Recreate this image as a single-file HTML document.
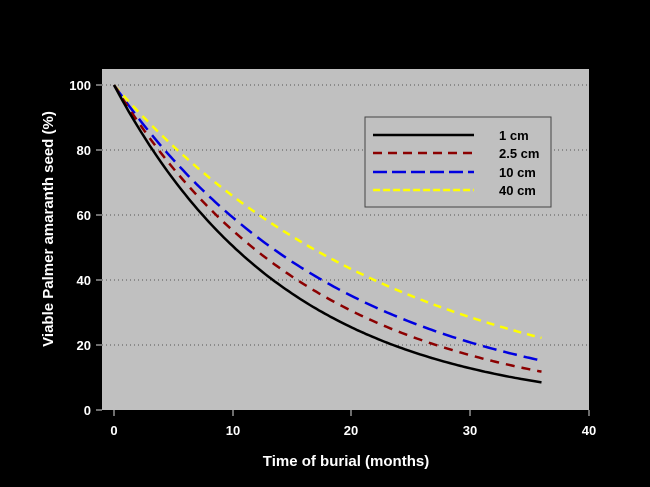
<!DOCTYPE html>
<html><head><style>
html,body{margin:0;padding:0;background:#000;}
svg{display:block;font-family:"Liberation Sans",Arial,sans-serif;font-weight:bold;}
</style></head><body>
<svg id="s" width="650" height="487" viewBox="0 0 650 487" xmlns="http://www.w3.org/2000/svg">
<rect width="650" height="487" fill="#000"/>
<rect x="102" y="69" width="487" height="341" fill="#c0c0c0"/>
<g stroke="#555" stroke-width="1" stroke-dasharray="1,3">
<line x1="102" x2="589" y1="85" y2="85"/>
<line x1="102" x2="589" y1="150" y2="150"/>
<line x1="102" x2="589" y1="215" y2="215"/>
<line x1="102" x2="589" y1="280" y2="280"/>
<line x1="102" x2="589" y1="345" y2="345"/>
</g>
<g stroke="#ddd" stroke-width="1">
<line x1="96" x2="102" y1="85" y2="85"/><line x1="96" x2="102" y1="150" y2="150"/>
<line x1="96" x2="102" y1="215" y2="215"/><line x1="96" x2="102" y1="280" y2="280"/>
<line x1="96" x2="102" y1="345" y2="345"/><line x1="96" x2="102" y1="410" y2="410"/>
<line x1="114" x2="114" y1="410" y2="416"/><line x1="233" x2="233" y1="410" y2="416"/>
<line x1="351" x2="351" y1="410" y2="416"/><line x1="470" x2="470" y1="410" y2="416"/>
<line x1="589" x2="589" y1="410" y2="416"/>
</g>
<g fill="#fff" font-size="13" text-anchor="end">
<text x="91" y="90">100</text><text x="91" y="155">80</text><text x="91" y="220">60</text>
<text x="91" y="285">40</text><text x="91" y="350">20</text><text x="91" y="415">0</text>
</g>
<g fill="#fff" font-size="13" text-anchor="middle">
<text x="114" y="435">0</text><text x="233" y="435">10</text><text x="351" y="435">20</text>
<text x="470" y="435">30</text><text x="589" y="435">40</text>
</g>
<text x="346" y="466" fill="#fff" font-size="15" text-anchor="middle">Time of burial (months)</text>
<text transform="translate(53,229) rotate(-90)" fill="#fff" font-size="15" text-anchor="middle">Viable Palmer amaranth seed (%)</text>
<g id="curves" fill="none"></g>
<rect x="365" y="117" width="186" height="90" fill="#c0c0c0" stroke="#444" stroke-width="1"/>
<line x1="373" x2="474" y1="135" y2="135" stroke="#000" stroke-width="2.5"/>
<line x1="373" x2="474" y1="153" y2="153" stroke="#8b0000" stroke-width="2.5" stroke-dasharray="9,6"/>
<line x1="373" x2="474" y1="172" y2="172" stroke="#0000e0" stroke-width="2.5" stroke-dasharray="14,5"/>
<line x1="373" x2="474" y1="190" y2="190" stroke="#ffff00" stroke-width="2.5" stroke-dasharray="7,3"/>
<g fill="#000" font-size="13">
<text x="499" y="140">1 cm</text><text x="499" y="158">2.5 cm</text>
<text x="499" y="177">10 cm</text><text x="499" y="195">40 cm</text>
</g>
</svg>
<script>
var g=document.getElementById('curves');
var S=[[36,8.5,'#000','none'],[36,11.8,'#8b0000','9,7'],[36,15.2,'#0000e0','14,7'],[36,22.2,'#ffff00','8,6']];
S.slice().reverse().forEach(function(s){
 var k=Math.log(100/s[1])/s[0],d='';
 for(var t=0;t<=36;t+=0.25){var x=114+t*475/40,y=410-3.25*100*Math.exp(-k*t);d+=(t?'L':'M')+x.toFixed(1)+','+y.toFixed(1);}
 var p=document.createElementNS('http://www.w3.org/2000/svg','path');
 p.setAttribute('d',d);p.setAttribute('stroke',s[2]);p.setAttribute('stroke-width','2.5');
 if(s[3]!='none')p.setAttribute('stroke-dasharray',s[3]);g.appendChild(p);
});
</script>
</body></html>
